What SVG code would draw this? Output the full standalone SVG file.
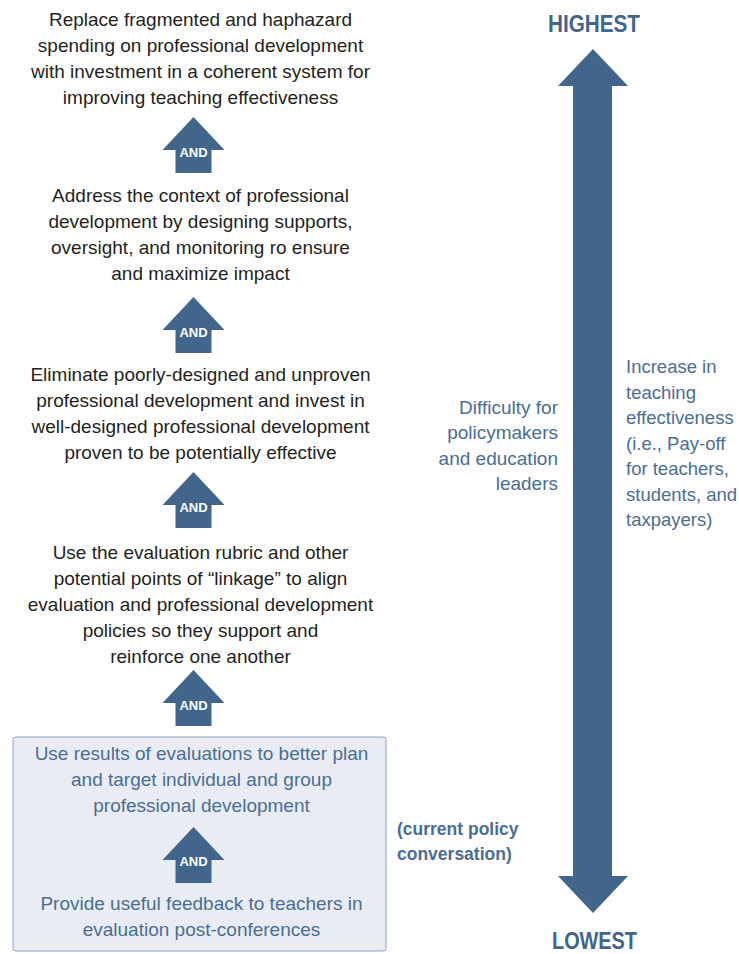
<svg xmlns="http://www.w3.org/2000/svg" width="739" height="954" viewBox="0 0 739 954">
<style>
.blk{font-family:"Liberation Sans",Arial,sans-serif;font-size:19px;fill:#231f20;text-anchor:middle}
.blu{font-family:"Liberation Sans",Arial,sans-serif;font-size:19px;fill:#4a6d93}
.sm{font-size:18.5px}
.mid{text-anchor:middle}
.end{text-anchor:end}
.hd{font-family:"Liberation Sans",Arial,sans-serif;font-weight:bold;font-size:23px;fill:#41658b;text-anchor:middle}
.cur{font-family:"Liberation Sans",Arial,sans-serif;font-weight:bold;font-size:17.5px;fill:#4a6d93}
.and{font-family:"Liberation Sans",Arial,sans-serif;font-weight:bold;font-size:13px;fill:#ffffff;text-anchor:middle}
.arr{fill:#41658b}
</style>
<defs>
<path id="andArrow" d="M193.5,0 L224.5,33 L211.5,33 L211.5,56 L175.5,56 L175.5,33 L162.5,33 Z"/>
</defs>

<g id="current-box">
<rect x="13" y="737" width="373" height="214" rx="3" ry="3" fill="#e9edf3" stroke="#8ea2b9" stroke-width="1"/>
</g>

<g id="node-replace">
<text class="blk" x="200.5" y="26">Replace fragmented and haphazard</text>
<text class="blk" x="200.5" y="52">spending on professional development</text>
<text class="blk" x="200.5" y="78">with investment in a coherent system for</text>
<text class="blk" x="200.5" y="104">improving teaching effectiveness</text>
</g>

<g id="node-context">
<text class="blk" x="200.5" y="202">Address the context of professional</text>
<text class="blk" x="200.5" y="228">development by designing supports,</text>
<text class="blk" x="200.5" y="254">oversight, and monitoring ro ensure</text>
<text class="blk" x="200.5" y="280">and maximize impact</text>
</g>

<g id="node-eliminate">
<text class="blk" x="200.5" y="381">Eliminate poorly-designed and unproven</text>
<text class="blk" x="200.5" y="407">professional development and invest in</text>
<text class="blk" x="200.5" y="433">well-designed professional development</text>
<text class="blk" x="200.5" y="459">proven to be potentially effective</text>
</g>

<g id="node-rubric">
<text class="blk" x="200.5" y="559">Use the evaluation rubric and other</text>
<text class="blk" x="200.5" y="585">potential points of “linkage” to align</text>
<text class="blk" x="200.5" y="611">evaluation and professional development</text>
<text class="blk" x="200.5" y="637">policies so they support and</text>
<text class="blk" x="200.5" y="663">reinforce one another</text>
</g>

<g id="node-results">
<text class="blu mid" x="201.5" y="760">Use results of evaluations to better plan</text>
<text class="blu mid" x="201.5" y="786">and target individual and group</text>
<text class="blu mid" x="201.5" y="812">professional development</text>
</g>

<g id="node-feedback">
<text class="blu mid" x="201.5" y="910">Provide useful feedback to teachers in</text>
<text class="blu mid" x="201.5" y="936">evaluation post-conferences</text>
</g>

<g id="node-current-label">
<text class="cur" x="397" y="835">(current policy</text>
<text class="cur" x="397" y="860">conversation)</text>
</g>

<g id="node-highest">
<text class="hd" x="594" y="32" textLength="92" lengthAdjust="spacingAndGlyphs">HIGHEST</text>
</g>
<g id="node-lowest">
<text class="hd" x="594.5" y="949" textLength="85" lengthAdjust="spacingAndGlyphs">LOWEST</text>
</g>

<g id="node-difficulty">
<text class="blu end" x="558" y="414">Difficulty for</text>
<text class="blu end" x="558" y="439">policymakers</text>
<text class="blu end" x="558" y="465">and education</text>
<text class="blu end" x="558" y="490">leaders</text>
</g>

<g id="node-increase">
<text class="blu sm" x="626" y="373">Increase in</text>
<text class="blu sm" x="626" y="399">teaching</text>
<text class="blu sm" x="626" y="424">effectiveness</text>
<text class="blu sm" x="626" y="450">(i.e., Pay-off</text>
<text class="blu sm" x="626" y="475">for teachers,</text>
<text class="blu sm" x="626" y="501">students, and</text>
<text class="blu sm" x="626" y="526">taxpayers)</text>
</g>

<g id="connectors">
<g transform="translate(0,117)"><use href="#andArrow" class="arr"/><text class="and" x="193.5" y="39.5">AND</text></g>
<g transform="translate(0,297)"><use href="#andArrow" class="arr"/><text class="and" x="193.5" y="39.5">AND</text></g>
<g transform="translate(0,472)"><use href="#andArrow" class="arr"/><text class="and" x="193.5" y="39.5">AND</text></g>
<g transform="translate(0,670)"><use href="#andArrow" class="arr"/><text class="and" x="193.5" y="39.5">AND</text></g>
<g transform="translate(0,827)"><use href="#andArrow" class="arr"/><text class="and" x="193.5" y="38.5">AND</text></g>
<path class="arr" d="M593,49 L628,86 L612,86 L612,876 L628,876 L593,913 L558,876 L573,876 L573,86 L558,86 Z"/>
</g>
</svg>
